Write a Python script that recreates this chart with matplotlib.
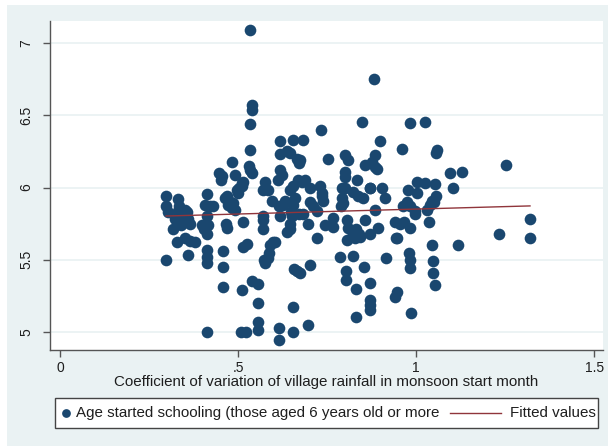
import matplotlib
matplotlib.use("Agg")
import matplotlib.pyplot as plt
from matplotlib.patches import Rectangle
from matplotlib.lines import Line2D

plt.rcParams['font.family'] = ['Liberation Sans', 'DejaVu Sans']

# Village-level observations: rainfall CV (x) and mean age at school start (y)
cv_rain = [
    0.298, 0.298, 0.302, 0.298, 0.331, 0.334, 0.331, 0.351, 0.356, 0.323, 0.318, 0.360,
    0.365, 0.337, 0.328, 0.351, 0.365, 0.379, 0.360, 0.345, 0.340,
    0.412, 0.407, 0.431, 0.420, 0.412, 0.398, 0.415, 0.412, 0.405, 0.412, 0.412, 0.412, 0.414,
    0.459, 0.459, 0.459, 0.468, 0.471, 0.482, 0.492, 0.465, 0.468, 0.446, 0.451, 0.455,
    0.482, 0.491, 0.510, 0.504, 0.499, 0.496, 0.515, 0.510, 0.475, 0.485, 0.463,
    0.515, 0.515, 0.524, 0.512, 0.509, 0.522, 0.534, 0.538, 0.538, 0.534, 0.534, 0.530,
    0.535, 0.540, 0.538, 0.555, 0.555, 0.555, 0.555,
    0.571, 0.576, 0.585, 0.595, 0.571, 0.571, 0.570, 0.590, 0.599, 0.604, 0.588, 0.583,
    0.577, 0.574, 0.618, 0.623, 0.613, 0.618, 0.618, 0.632, 0.627, 0.618, 0.616, 0.616, 0.616,
    0.637, 0.646, 0.655, 0.683, 0.665, 0.674, 0.670, 0.646, 0.655, 0.669, 0.679, 0.688,
    0.655, 0.651, 0.646, 0.646, 0.637, 0.683, 0.697, 0.670, 0.656, 0.665, 0.673, 0.703,
    0.654, 0.654, 0.696, 0.702, 0.702, 0.660, 0.648,
    0.721, 0.730, 0.735, 0.740, 0.734, 0.752, 0.721, 0.744, 0.768, 0.768, 0.736, 0.710,
    0.791, 0.791, 0.796, 0.800, 0.810, 0.800, 0.800, 0.833, 0.800, 0.824, 0.838, 0.852, 0.790,
    0.805, 0.810, 0.819, 0.829, 0.805, 0.857, 0.843, 0.787, 0.822, 0.803, 0.803, 0.854,
    0.831, 0.831, 0.847, 0.857, 0.830, 0.840,
    0.883, 0.899, 0.885, 0.876, 0.889, 0.885, 0.871, 0.904, 0.913, 0.885, 0.871, 0.894,
    0.872, 0.871, 0.871, 0.871, 0.916, 0.872,
    0.960, 0.983, 0.978, 1.002, 0.974, 0.964, 0.983, 0.997, 0.941, 0.955, 0.983, 0.946,
    0.944, 0.981, 0.983, 0.983, 0.986, 0.941, 0.946, 0.997, 0.965,
    1.002, 1.025, 1.053, 1.025, 1.058, 1.056, 1.044, 1.039, 1.030, 1.035, 1.044, 1.047,
    1.047, 1.053, 1.094, 1.128, 1.103, 1.118, 1.056, 1.051,
    1.253, 1.234, 1.320, 1.320,
]
age_school = [
    5.94, 5.875, 5.83, 5.50, 5.92, 5.87, 5.84, 5.845, 5.83, 5.78, 5.71, 5.78,
    5.75, 5.76, 5.62, 5.65, 5.63, 5.62, 5.53, 5.80, 5.74,
    5.955, 5.88, 5.87, 5.875, 5.80, 5.74, 5.74, 5.68, 5.71, 5.57, 5.52, 5.475, 5.00,
    5.56, 5.45, 5.31, 5.94, 5.88, 5.86, 5.845, 5.75, 5.72, 6.10, 6.05, 6.08,
    6.18, 6.085, 6.03, 6.00, 5.96, 5.98, 6.04, 6.01, 5.91, 5.89, 5.93,
    5.76, 5.59, 5.61, 5.29, 5.00, 5.00, 7.09, 6.57, 6.54, 6.44, 6.26, 6.15,
    6.12, 6.10, 5.355, 5.33, 5.20, 5.07, 5.01,
    5.98, 6.04, 5.98, 5.91, 5.80, 5.71, 5.775, 5.60, 5.625, 5.62, 5.55, 5.51,
    5.475, 5.495, 6.12, 6.085, 6.05, 6.32, 6.23, 5.91, 5.88, 5.80, 5.87, 5.025, 4.945,
    6.25, 6.24, 6.33, 6.33, 6.20, 6.19, 6.17, 5.98, 6.01, 6.05, 6.04, 6.05,
    5.88, 5.80, 5.75, 5.71, 5.695, 5.82, 5.75, 5.82, 5.435, 5.42, 5.41, 5.465,
    5.175, 5.00, 5.05, 6.00, 5.90, 5.93, 5.83,
    5.84, 6.01, 5.96, 5.91, 6.40, 6.20, 5.65, 5.74, 5.79, 5.73, 5.94, 5.87,
    6.00, 5.93, 5.89, 6.225, 6.19, 6.11, 6.075, 6.05, 6.00, 5.97, 5.94, 5.925, 5.87,
    5.775, 5.72, 5.70, 5.65, 5.64, 5.775, 5.66, 5.52, 5.525, 5.42, 5.36, 5.45,
    5.30, 5.106, 6.456, 6.155, 5.71, 5.68,
    6.75, 6.325, 6.225, 6.18, 6.13, 6.145, 6.00, 6.00, 5.93, 5.845, 5.68, 5.72,
    5.34, 5.22, 5.19, 5.15, 5.51, 5.995,
    6.265, 6.45, 5.98, 5.96, 5.90, 5.87, 5.87, 5.84, 5.76, 5.75, 5.72, 5.65,
    5.65, 5.545, 5.50, 5.44, 5.13, 5.245, 5.28, 5.82, 5.76,
    6.04, 6.03, 6.025, 6.456, 6.26, 6.24, 5.91, 5.88, 5.845, 5.76, 5.60, 5.49,
    5.405, 5.325, 6.10, 6.11, 6.00, 5.60, 5.94, 5.90,
    6.157, 5.677, 5.78, 5.65,
]

# Linear fit endpoints over the observed range
fit_x = [0.298, 1.320]
fit_y = [5.803, 5.873]

x_ticks = [0, 0.5, 1, 1.5]
x_tick_labels = ["0", ".5", "1", "1.5"]
y_ticks = [5, 5.5, 6, 6.5, 7]
y_tick_labels = ["5", "5.5", "6", "6.5", "7"]

scatter_label = "Age started schooling (those aged 6 years old or more"
fit_label = "Fitted values"

NAVY = "#1a476f"
MAROON = "#90353b"
BG = "#eaf2f3"
TXT = "#1e1e1e"

W, H = 608, 446
fig = plt.figure(figsize=(W / 100, H / 100), dpi=100, facecolor="white")


def fx(px):
    return px / W


def fy(py):
    return (H - py) / H


# light outer graph region
fig.patches.append(Rectangle((fx(7), 0), 1, fy(5), transform=fig.transFigure,
                             facecolor=BG, edgecolor="none", zorder=-10))

ax = fig.add_axes([fx(50), fy(349.7), (603 - 50) / W, (349.7 - 20.7) / H])
ax.set_facecolor("white")
ax.set_xlim(-0.028, 1.525)
ax.set_ylim(4.877, 7.156)

for yv in y_ticks:
    ax.axhline(yv, color=BG, lw=1.3, zorder=0)

ax.plot(cv_rain, age_school, linestyle="none", marker="o", ms=8.4,
        mfc=NAVY, mec=NAVY, mew=0, zorder=2)
ax.plot(fit_x, fit_y, color=MAROON, lw=1.0, zorder=3)

for side in ("top", "right"):
    ax.spines[side].set_visible(False)
for side in ("left", "bottom"):
    ax.spines[side].set_color("#555555")
    ax.spines[side].set_linewidth(1.0)

ax.set_xticks(x_ticks)
ax.set_xticklabels(x_tick_labels)
ax.set_yticks(y_ticks)
ax.set_yticklabels(y_tick_labels, rotation=90, va="center")
ax.tick_params(axis="both", direction="out", length=5, width=1.0, color="#555555",
               labelsize=10, labelcolor=TXT)
ax.tick_params(axis="y", pad=7)
ax.tick_params(axis="x", pad=3)

ax.set_xlabel("Coefficient of variation of village rainfall in monsoon start month",
              fontsize=10.9, color=TXT, labelpad=0)

# legend box below the plot
fig.patches.append(Rectangle((fx(55), fy(428)), (598 - 55) / W, 30 / H,
                             transform=fig.transFigure, facecolor="white",
                             edgecolor="#444444", lw=1.0, zorder=5))
ly = fy(413)
fig.lines.append(Line2D([fx(66)], [ly], transform=fig.transFigure, linestyle="none",
                        marker="o", ms=6.3, mfc=NAVY, mec=NAVY, mew=0, zorder=6))
fig.text(fx(76), ly, scatter_label, fontsize=10.9, color=TXT, va="center", ha="left",
         zorder=6)
fig.lines.append(Line2D([fx(450), fx(501)], [ly, ly], transform=fig.transFigure,
                        color=MAROON, lw=1.0, zorder=6))
fig.text(fx(510), ly, fit_label, fontsize=10.9, color=TXT, va="center", ha="left",
         zorder=6)

fig.savefig("out.png", dpi=100, facecolor="white")
